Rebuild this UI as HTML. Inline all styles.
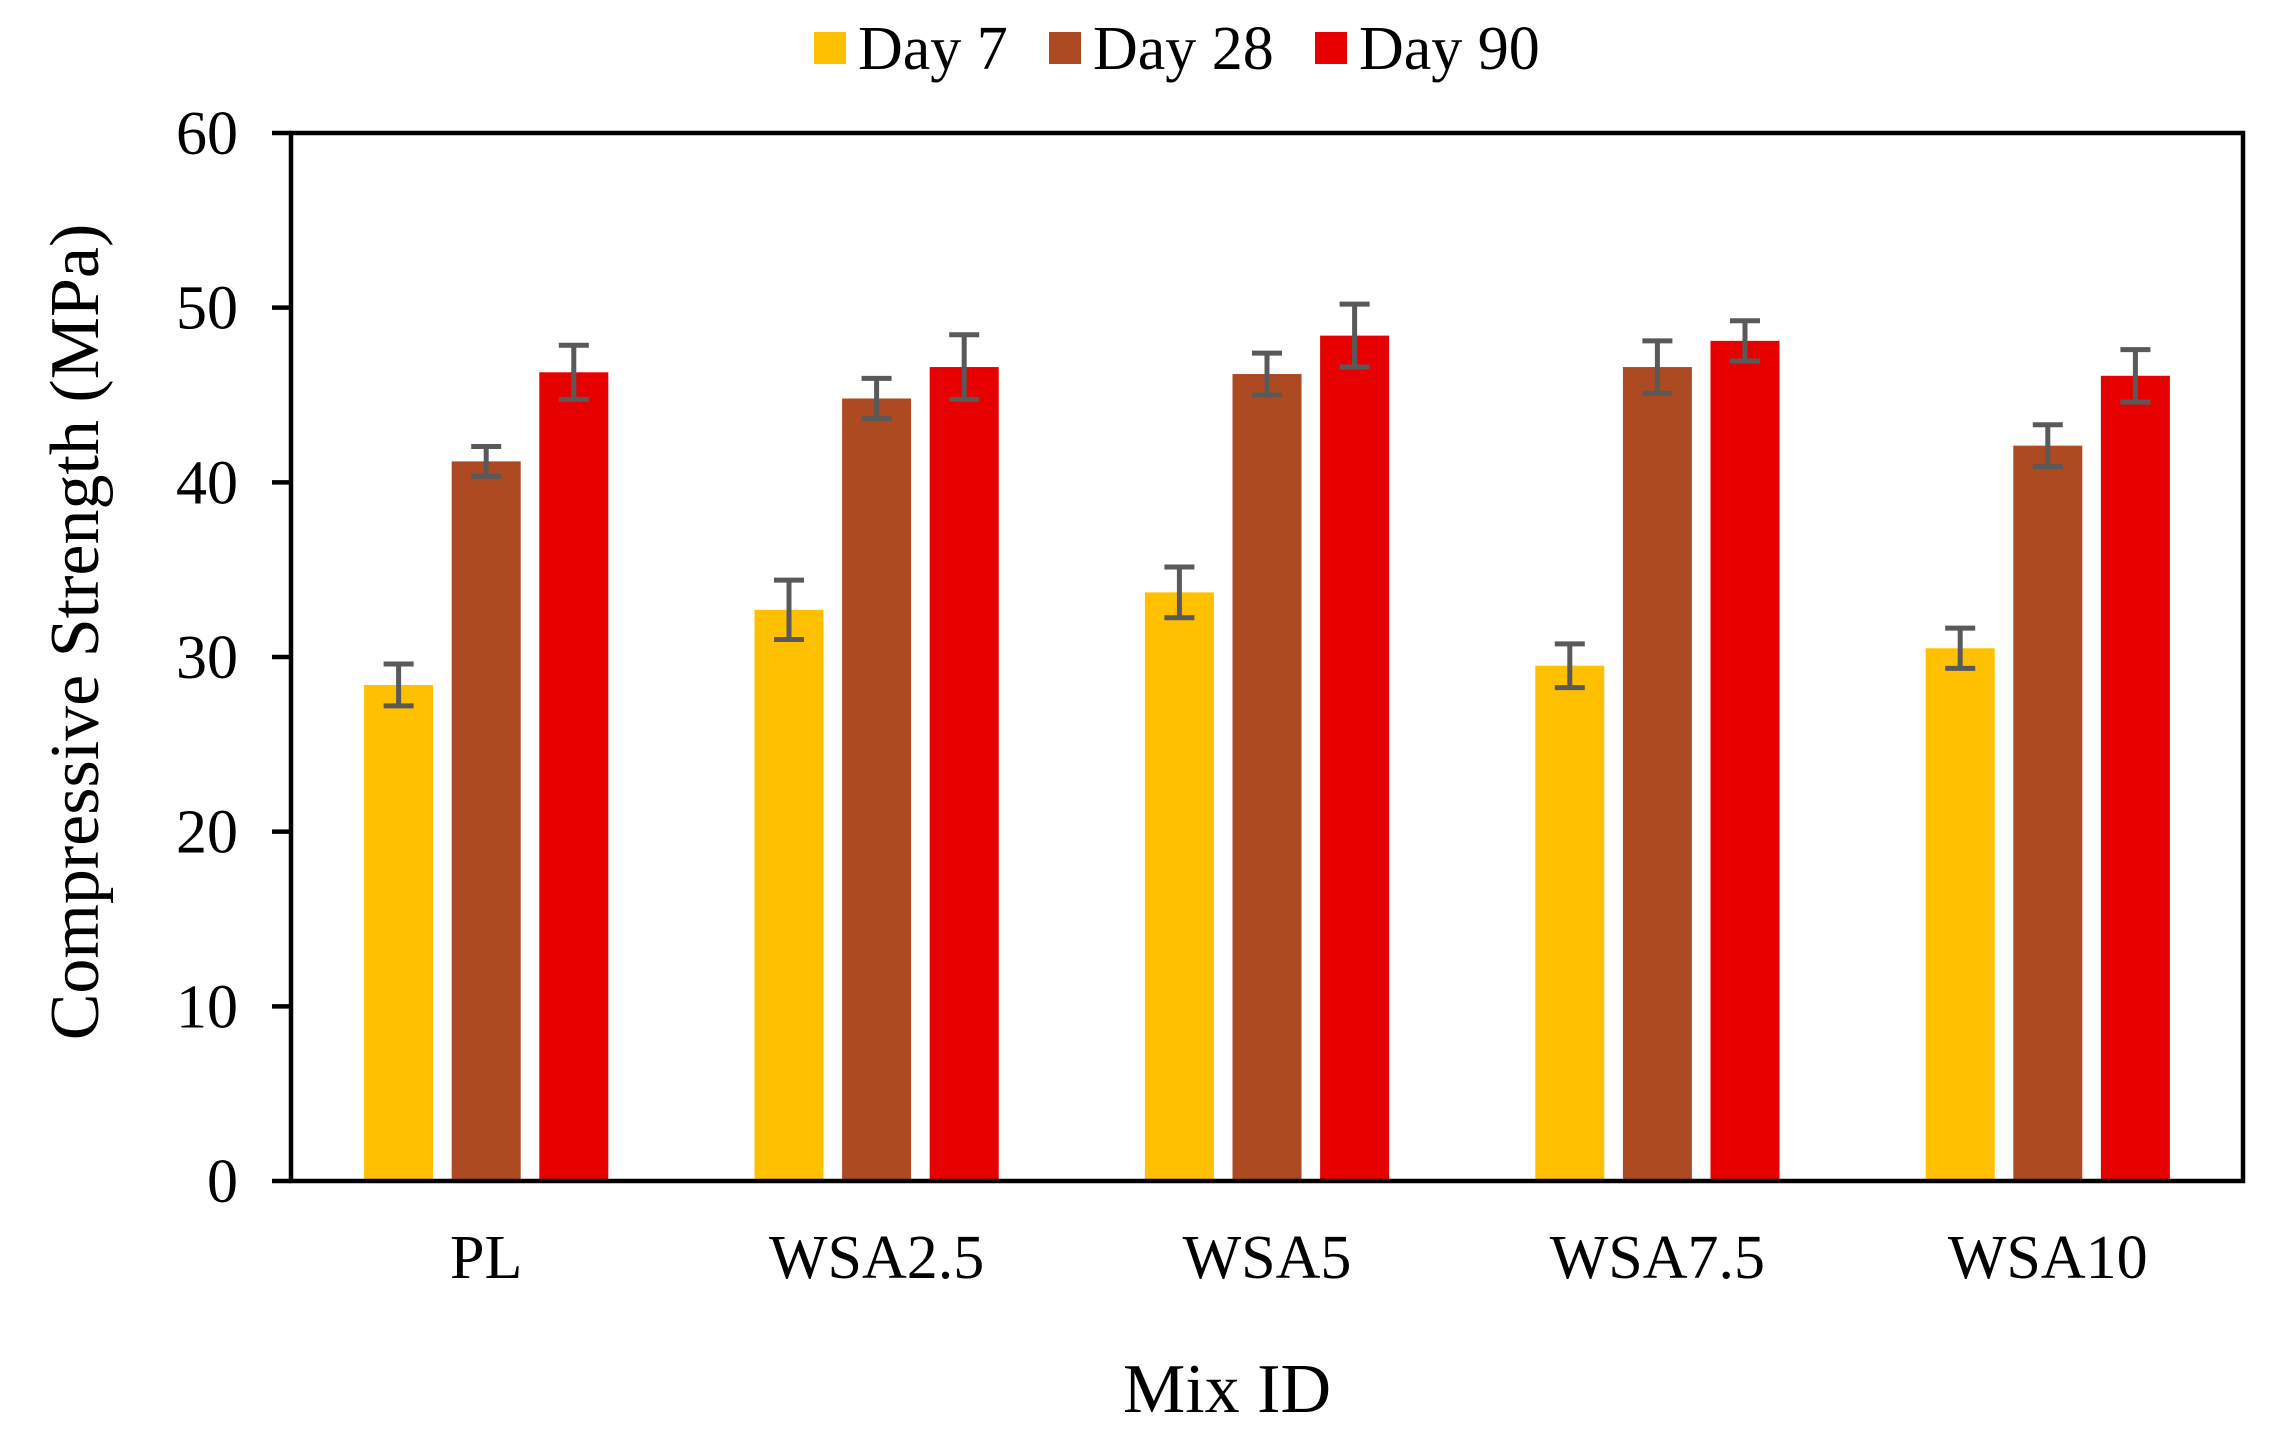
<!DOCTYPE html>
<html><head><meta charset="utf-8"><style>
html,body{margin:0;padding:0;background:#fff}
svg{display:block;font-family:"Liberation Serif",serif}
</style></head><body>
<svg id="chart" width="2291" height="1451" viewBox="0 0 2291 1451" xmlns="http://www.w3.org/2000/svg">
<g id="legend"></g>
<g id="bars"></g>
<g id="axes"></g>
<text x="0" y="0" transform="translate(98,632) rotate(-90)" text-anchor="middle" font-size="70">Compressive Strength (MPa)</text>
<text x="1227" y="1412" text-anchor="middle" font-size="70">Mix ID</text>
</svg>
<script>
const categories = ["PL","WSA2.5","WSA5","WSA7.5","WSA10"];
const seriesNames = ["Day 7","Day 28","Day 90"];
const day7 = [28.4,32.7,33.7,29.5,30.5];
const day28 = [41.2,44.8,46.2,46.6,42.1];
const day90 = [46.3,46.6,48.4,48.1,46.1];
const err7 = [1.2,1.7,1.45,1.25,1.15];
const err28 = [0.85,1.15,1.2,1.5,1.2];
const err90 = [1.55,1.85,1.8,1.15,1.5];
const yTicks = [0,10,20,30,40,50,60];

const NS="http://www.w3.org/2000/svg";
const colors=["#FFC000","#AE4A22","#E60000"];
const L=291,R=2243,T=133,B=1181,yMax=60;
const y=v=>B-(v/yMax)*(B-T);
const groupW=(R-L)/categories.length;
const xc=i=>L+groupW*(i+0.5);
const barW=69,step=87.6;
function mk(tag,attrs,parent){const e=document.createElementNS(NS,tag);for(const k in attrs)e.setAttribute(k,attrs[k]);parent.appendChild(e);return e;}
const bars=document.getElementById('bars'),axes=document.getElementById('axes'),legend=document.getElementById('legend');
const vals=[day7,day28,day90],errs=[err7,err28,err90];
categories.forEach((c,i)=>{
  vals.forEach((s,j)=>{
    const cx=xc(i)+(j-1)*step;
    const r=mk('rect',{x:cx-barW/2,y:y(s[i]),width:barW,height:B-y(s[i]),fill:colors[j]},bars);
    
    
    const e=errs[j][i];
    const g=mk('g',{stroke:"#595959","stroke-width":5},bars);
    
    
    mk('line',{x1:cx,x2:cx,y1:y(s[i]+e),y2:y(s[i]-e)},g);
    mk('line',{x1:cx-15,x2:cx+15,y1:y(s[i]+e),y2:y(s[i]+e)},g);
    mk('line',{x1:cx-15,x2:cx+15,y1:y(s[i]-e),y2:y(s[i]-e)},g);
  });
  const t=mk('text',{x:xc(i),y:1278,"text-anchor":"middle","font-size":62},axes);
  t.textContent=c;
  
  
});
const frame=mk('rect',{x:L,y:T,width:R-L,height:B-T,fill:"none",stroke:"#000","stroke-width":4.5},axes);


yTicks.forEach(v=>{
  const tk=mk('line',{x1:L-19,x2:L,y1:y(v),y2:y(v),stroke:"#000","stroke-width":4.5},axes);
  
  
  const t=mk('text',{x:238,y:y(v)+21,"text-anchor":"end","font-size":62},axes);
  t.textContent=v;
  
  
});
const lx=[814,1049,1315];
seriesNames.forEach((n,j)=>{
  const g=mk('g',{},legend);
  
  
  mk('rect',{x:lx[j],y:32,width:32,height:32,fill:colors[j]},g);
  const t=mk('text',{x:lx[j]+44,y:69,"font-size":62},g);
  t.textContent=n;
});
</script>
</body></html>
